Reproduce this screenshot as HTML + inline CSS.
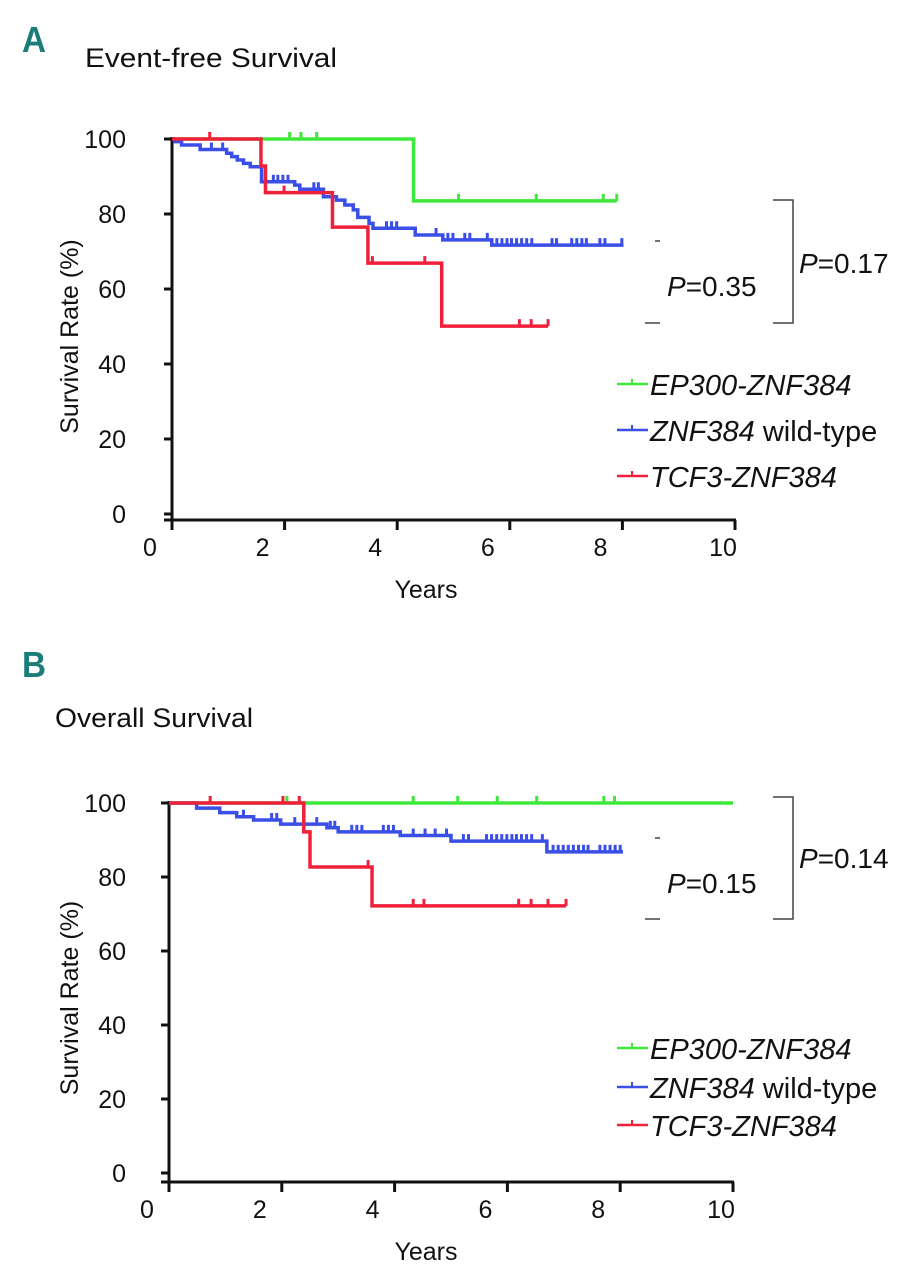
<!DOCTYPE html>
<html><head><meta charset="utf-8"><style>
html,body{margin:0;padding:0;background:#fff;}
svg{display:block;font-family:"Liberation Sans",Arial,sans-serif;}
</style></head><body>
<svg id="fig" width="914" height="1280" viewBox="0 0 914 1280" xmlns="http://www.w3.org/2000/svg">
<g>
<text x="22" y="52" font-size="36" font-weight="bold" fill="#1b7d7a" textLength="24" lengthAdjust="spacingAndGlyphs">A</text>
<text x="85" y="67" font-size="27" fill="#111" textLength="252" lengthAdjust="spacingAndGlyphs">Event-free Survival</text>
</g>
<g>
<text x="22" y="677" font-size="36" font-weight="bold" fill="#1b7d7a" textLength="24" lengthAdjust="spacingAndGlyphs">B</text>
<text x="55" y="727" font-size="27" fill="#111" textLength="198" lengthAdjust="spacingAndGlyphs">Overall Survival</text>
</g>
<g id="chartA"></g>
<g id="chartB"></g>
</svg>
<script>
// ---- data: panel A (event-free survival) ----
const xTicks = [0, 2, 4, 6, 8, 10];
const yTicks = [0, 20, 40, 60, 80, 100];
const seriesNames = ["EP300-ZNF384", "ZNF384 wild-type", "TCF3-ZNF384"];

const aGreenTimes = [4.29];
const aGreenVals = [83.5];
const aGreenEnd = 7.9;
const aGreenCens = [2.09, 2.29, 2.57, 5.09, 6.47, 7.66, 7.9];

const aRedTimes = [1.58, 1.66, 2.85, 3.48, 4.79];
const aRedVals = [92.8, 85.7, 76.5, 66.9, 50.1];
const aRedEnd = 6.68;
const aRedCens = [0.67, 1.99, 3.56, 4.49, 6.17, 6.38, 6.68];

const aBlueTimes = [0.05, 0.17, 0.5, 0.97, 1.06, 1.16, 1.27, 1.39, 1.59, 2.18, 2.27, 2.69, 2.92, 3.07, 3.22, 3.3, 3.5, 3.57, 4.32, 4.81, 5.68];
const aBlueVals = [99.3, 98.4, 97.2, 96.2, 95.3, 94.4, 93.5, 92.6, 88.6, 87.7, 86.6, 84.6, 83.7, 82.4, 81.1, 79.1, 77.5, 76.2, 74.4, 73.1, 71.7];
const aBlueEnd = 8.02;
const aBlueCens = [0.7, 0.9, 1.8, 1.88, 1.97, 2.06, 2.52, 2.6, 3.81, 3.9, 3.99, 4.69, 4.9, 4.99, 5.2, 5.29, 5.6, 5.77, 5.86, 5.95, 6.03, 6.12, 6.21, 6.3, 6.39, 6.75, 6.83, 7.1, 7.19, 7.28, 7.36, 7.6, 7.69, 7.99];

// ---- data: panel B (overall survival) ----
const bGreenTimes = [];
const bGreenVals = [];
const bGreenEnd = 10;
const bGreenCens = [2.09, 4.33, 5.12, 5.82, 6.52, 7.71, 7.9];

const bRedTimes = [2.39, 2.5, 3.6];
const bRedVals = [92.2, 82.7, 72.2];
const bRedEnd = 7.04;
const bRedCens = [0.73, 2.02, 2.31, 3.53, 4.33, 4.52, 6.2, 6.42, 6.72, 7.04];

const bBlueTimes = [0.49, 0.9, 1.2, 1.5, 1.98, 2.8, 3.0, 4.1, 5.0, 6.7];
const bBlueVals = [98.6, 97.4, 96.3, 95.4, 94.3, 93.3, 92.2, 91.2, 89.7, 86.8];
const bBlueEnd = 8.05;
const bBlueCens = [1.32, 1.82, 1.91, 2.23, 2.62, 2.86, 2.94, 3.24, 3.33, 3.42, 3.8, 3.89, 3.98, 4.33, 4.54, 4.72, 4.92, 5.22, 5.31, 5.63, 5.72, 5.81, 5.9, 5.99, 6.08, 6.16, 6.25, 6.34, 6.43, 6.62, 6.81, 6.9, 6.99, 7.08, 7.17, 7.26, 7.35, 7.43, 7.64, 7.73, 7.82, 7.91, 8.0];

const pA = ["P=0.35", "P=0.17"];
const pB = ["P=0.15", "P=0.14"];

const NS = "http://www.w3.org/2000/svg";
const COLORS = ["#3ee83a", "#3a4ee8", "#f0203a"];

function mk(parent, tag, attrs) {
  const e = document.createElementNS(NS, tag);
  for (const k in attrs) e.setAttribute(k, attrs[k]);
  parent.appendChild(e);
  return e;
}
function stepVal(times, vals, t) {
  let v = 100;
  for (let i = 0; i < times.length; i++) if (t >= times[i]) v = vals[i];
  return v;
}

function drawChart(g, cfg) {
  const x = t => cfg.x0 + t * (cfg.x1 - cfg.x0) / 10;
  const y = v => cfg.y0 - v * (cfg.y0 - cfg.y100) / 100;
  const axes = mk(g, "g", {});
  
  
  const yAxis = mk(axes, "line", {x1: x(0), y1: y(100) - 2, x2: x(0), y2: cfg.axisY, stroke: "#111", "stroke-width": 3});
  
  
  const xAxis = mk(axes, "line", {x1: x(0) - 8, y1: cfg.axisY, x2: x(10) + 1, y2: cfg.axisY, stroke: "#111", "stroke-width": 3});
  
  
  yTicks.forEach(v => {
    const tk = mk(axes, "line", {x1: x(0) - 8, y1: y(v), x2: x(0), y2: y(v), stroke: "#111", "stroke-width": 3});
    
    
    const lb = mk(axes, "text", {x: 126, y: y(v) + 9, "font-size": 25, "text-anchor": "end", fill: "#111"});
    lb.textContent = v;
    
    
  });
  xTicks.forEach(t => {
    const tk = mk(axes, "line", {x1: x(t), y1: cfg.axisY, x2: x(t), y2: cfg.axisY + 10, stroke: "#111", "stroke-width": 3});
    
    
    const lb = mk(axes, "text", {x: x(t) - (t === 10 ? 12 : 22), y: cfg.axisY + 36, "font-size": 25, "text-anchor": "middle", fill: "#111"});
    lb.textContent = t;
    
    
  });
  const xt = mk(axes, "text", {x: 426, y: cfg.axisY + 78, "font-size": 25, "text-anchor": "middle", fill: "#111"});
  xt.textContent = "Years";
  
  
  const yc = (y(0) + y(100)) / 2 + 10;
  const yt = mk(axes, "text", {x: 78, y: yc, "font-size": 25, "text-anchor": "middle", fill: "#111", transform: "rotate(-90 78 " + yc + ")"});
  yt.textContent = "Survival Rate (%)";
  
  

  cfg.series.forEach((s, i) => {
    const sg = mk(g, "g", {});
    
    
    let d = "M" + x(0) + " " + y(100);
    s.times.forEach((t, k) => { d += " H" + x(t) + " V" + y(s.vals[k]); });
    d += " H" + x(s.end);
    const p = mk(sg, "path", {d: d, fill: "none", stroke: COLORS[i], "stroke-width": 3.5});
    
    
    s.cens.forEach(t => {
      const v = stepVal(s.times, s.vals, t);
      const c = mk(sg, "line", {x1: x(t), y1: y(v), x2: x(t), y2: y(v) - 7, stroke: COLORS[i], "stroke-width": 3});
      
      
    });
  });

  const lg = mk(g, "g", {});
  
  
  seriesNames.forEach((n, i) => {
    const ly = cfg.legY[i];
    const e = mk(lg, "g", {});
    
    
    mk(e, "line", {x1: 617, y1: ly, x2: 648, y2: ly, stroke: COLORS[i], "stroke-width": 2.5});
    mk(e, "line", {x1: 632, y1: ly, x2: 632, y2: ly - 5, stroke: COLORS[i], "stroke-width": 2});
    const tx = mk(e, "text", {x: 650, y: ly + 11, "font-size": 29, fill: "#111"});
    if (i === 1) {
      tx.innerHTML = '<tspan font-style="italic">ZNF384</tspan> wild-type';
    } else {
      tx.setAttribute("font-style", "italic");
      tx.textContent = n;
    }
    
    
  });

  const pg = mk(g, "g", {});
  
  
  const b = cfg.br;
  mk(pg, "path", {d: "M773 " + b.top + " H793 V" + b.bot + " H773", fill: "none", stroke: "#444", "stroke-width": 1.5});
  mk(pg, "line", {x1: 655, y1: b.mid, x2: 660, y2: b.mid, stroke: "#444", "stroke-width": 1.5});
  mk(pg, "line", {x1: 645, y1: b.bot, x2: 660, y2: b.bot, stroke: "#444", "stroke-width": 1.5});
  [[cfg.p[0], 667, b.p1], [cfg.p[1], 799, b.p2]].forEach(([s, px, py]) => {
    const t = mk(pg, "text", {x: px, y: py, "font-size": 28, fill: "#111"});
    t.innerHTML = '<tspan font-style="italic">P</tspan>' + s.slice(1);
    
    
  });
}

drawChart(document.getElementById("chartA"), {
  x0: 172, x1: 735, y0: 514, y100: 139, axisY: 520,
  legY: [384, 430, 476],
  br: {top: 200, bot: 323, mid: 241, p1: 296, p2: 273},
  p: pA,
  series: [
    {times: aGreenTimes, vals: aGreenVals, end: aGreenEnd, cens: aGreenCens},
    {times: aBlueTimes, vals: aBlueVals, end: aBlueEnd, cens: aBlueCens},
    {times: aRedTimes, vals: aRedVals, end: aRedEnd, cens: aRedCens}
  ]
});
drawChart(document.getElementById("chartB"), {
  x0: 169, x1: 733, y0: 1173, y100: 803, axisY: 1182,
  legY: [1048, 1087, 1125],
  br: {top: 797, bot: 919, mid: 838, p1: 893, p2: 868},
  p: pB,
  series: [
    {times: bGreenTimes, vals: bGreenVals, end: bGreenEnd, cens: bGreenCens},
    {times: bBlueTimes, vals: bBlueVals, end: bBlueEnd, cens: bBlueCens},
    {times: bRedTimes, vals: bRedVals, end: bRedEnd, cens: bRedCens}
  ]
});
</script>
</body></html>
